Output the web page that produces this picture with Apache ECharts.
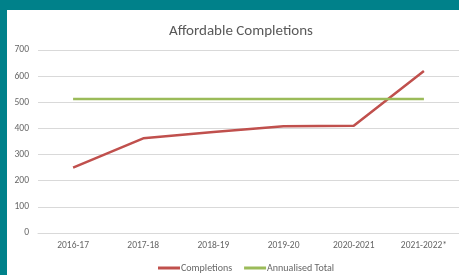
<!DOCTYPE html>
<html>
<head>
<meta charset="utf-8">
<script src="https://cdn.jsdelivr.net/npm/echarts@6/dist/echarts.min.js"></script>
<style>
    html, body { margin: 0; padding: 0; }
    #frame { position: relative; width: 459px; height: 275px; background: #00818a; }
    #chart { position: absolute; left: 7px; top: 10px; width: 452px; height: 265px; background: #fff; }
</style>
</head>
<body>
<div id="frame"><div id="chart"></div></div>
<script>
// Data
var years = ['2016-17', '2017-18', '2018-19', '2019-20', '2020-2021', '2021-2022*'];
var completions = [250, 362, 386, 408, 410, 620];
var annualisedTotal = [513, 513, 513, 513, 513, 513];

var chart = echarts.init(document.getElementById('chart'));

var labelFont = 'Carlito, "Open Sans", "Liberation Sans", sans-serif';

chart.setOption({
    color: ['#c0504d', '#9bbb59'],
    animation: false,

    title: {
        text: 'Affordable Completions',
        left: 157,
        top: 9,
        textStyle: {
            color: '#595959',
            fontFamily: labelFont,
            fontSize: 15,
            fontWeight: 'normal'
        }
    },

    legend: {
        data: ['Completions', 'Annualised Total'],
        left: 146,
        top: 248,
        itemWidth: 22,
        itemHeight: 3,
        itemGap: 12,
        icon: 'rect',
        textStyle: {
            color: '#666',
            fontFamily: labelFont,
            fontSize: 10,
            padding: [0, 0, 0, -4]
        }
    },

    grid: {
        left: 31,
        right: 0,
        top: 40,
        bottom: 42
    },

    xAxis: {
        type: 'category',
        boundaryGap: true,
        data: years,
        axisTick: { show: false },
        axisLine: { lineStyle: { color: '#d9d9d9', width: 1 } },
        axisLabel: {
            color: '#666',
            fontFamily: labelFont,
            fontSize: 9.5,
            margin: 8,
            interval: 0
        }
    },

    yAxis: {
        type: 'value',
        min: 0,
        max: 700,
        interval: 100,
        axisLine: { show: false },
        axisTick: { show: false },
        axisLabel: {
            color: '#666',
            fontFamily: labelFont,
            fontSize: 9.5,
            margin: 9
        },
        splitLine: { lineStyle: { color: '#d9d9d9', width: 1 } }
    },

    series: [
        {
            name: 'Completions',
            type: 'line',
            data: completions,
            symbol: 'none',
            lineStyle: { width: 2.5 }
        },
        {
            name: 'Annualised Total',
            type: 'line',
            data: annualisedTotal,
            symbol: 'none',
            lineStyle: { width: 2.5 }
        }
    ]
});
</script>
</body>
</html>
